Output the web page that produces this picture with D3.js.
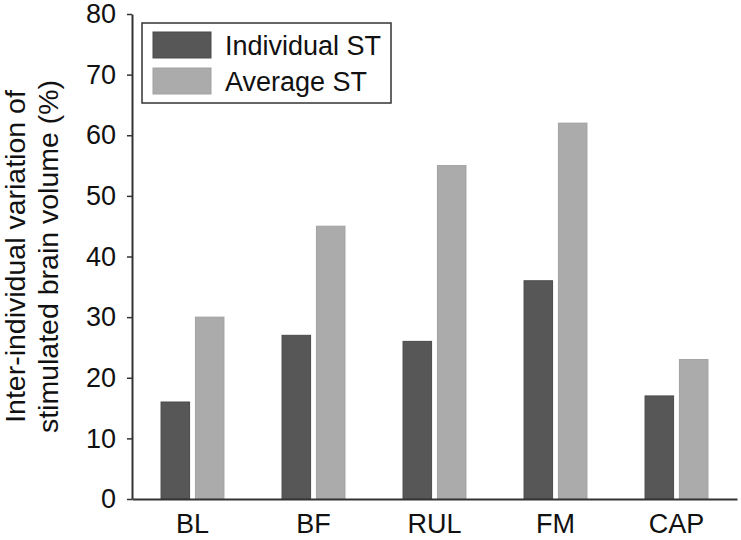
<!DOCTYPE html>
<html>
<head>
<meta charset="utf-8">
<script src="https://cdn.jsdelivr.net/npm/d3@7"></script>
<style>
  html, body { margin: 0; padding: 0; background: #fff; }
  svg { display: block; }
  text { font-family: Arial, "Liberation Sans", sans-serif; fill: #111; }
</style>
</head>
<body>
<svg id="chart" width="741" height="540"></svg>
<script>
const categories = ["BL", "BF", "RUL", "FM", "CAP"];
const seriesNames = ["Individual ST", "Average ST"];
const individualST = [16, 27, 26, 36, 17];
const averageST = [30, 45, 55, 62, 23];
const yTicks = [0, 10, 20, 30, 40, 50, 60, 70, 80];
const yTitleLines = ["Inter-individual variation of", "stimulated brain volume (%)"];

(function () {
const colors = ["#575757", "#ababab"];
const seriesValues = [individualST, averageST];

const svg = d3.select("#chart");
const mLeft = 132, mRight = 737, mTop = 14, mBottom = 499;

const x0 = d3.scaleBand().domain(categories).range([mLeft, mRight])
  .paddingInner(0.48).paddingOuter(0.24);
const x1 = d3.scaleBand().domain(seriesNames).range([0, x0.bandwidth()]).paddingInner(0.17);
const y = d3.scaleLinear().domain([0, 80]).range([mBottom, mTop]);

// bars
const groups = svg.append("g").selectAll("g")
  .data(categories)
  .join("g")
  .attr("transform", d => `translate(${x0(d)},0)`);

groups.selectAll("rect")
  .data((d, i) => seriesNames.map((s, j) => ({ s, v: seriesValues[j][i], j })))
  .join("rect")
  .attr("x", d => x1(d.s))
  .attr("width", x1.bandwidth())
  .attr("y", d => y(d.v))
  .attr("height", d => y(0) - y(d.v))
  .attr("fill", d => colors[d.j])
  .attr("stroke", d => d.j === 0 ? "#4a4a4a" : "#a2a2a2")
  .attr("stroke-width", 1);

// y axis
const yAxis = svg.append("g")
  .attr("transform", `translate(${mLeft},0)`)
  .call(d3.axisLeft(y).tickValues(yTicks).tickSize(5).tickPadding(11).tickSizeOuter(0));
yAxis.select(".domain").attr("stroke", "#333").attr("stroke-width", 2);
yAxis.selectAll(".tick line").attr("stroke", "#333").attr("stroke-width", 1.5);
yAxis.selectAll(".tick text").attr("font-size", 27).attr("fill", "#111")
  .attr("font-family", "Arial, 'Liberation Sans', sans-serif");

// x axis
const xAxis = svg.append("g")
  .attr("transform", `translate(0,${mBottom})`)
  .call(d3.axisBottom(x0).tickSize(0).tickPadding(15).tickSizeOuter(0));
xAxis.select(".domain").attr("stroke", "#333").attr("stroke-width", 2);
xAxis.selectAll(".tick text").attr("font-size", 27).attr("fill", "#111")
  .attr("font-family", "Arial, 'Liberation Sans', sans-serif");

// y title
const midY = (mTop + mBottom) / 2;
const yTitle = svg.append("text")
  .attr("transform", `translate(0,${midY}) rotate(-90)`)
  .attr("text-anchor", "middle")
  .attr("font-size", 28.5);
yTitle.selectAll("tspan")
  .data(yTitleLines)
  .join("tspan")
  .attr("x", 0)
  .attr("y", (d, i) => 25 + i * 33)
  .text(d => d);

// legend
const legend = svg.append("g");
legend.append("rect")
  .attr("x", 142).attr("y", 23).attr("width", 249).attr("height", 80)
  .attr("fill", "#fff").attr("stroke", "#333").attr("stroke-width", 1.5);
seriesNames.forEach((s, i) => {
  legend.append("rect")
    .attr("x", 153).attr("y", 32 + i * 36).attr("width", 58).attr("height", 26)
    .attr("fill", colors[i]).attr("stroke", i === 0 ? "#4a4a4a" : "#a2a2a2");
  legend.append("text")
    .attr("x", 225).attr("y", 55 + i * 36)
    .attr("font-size", 27)
    .text(s);
});
})();
</script>
</body>
</html>
